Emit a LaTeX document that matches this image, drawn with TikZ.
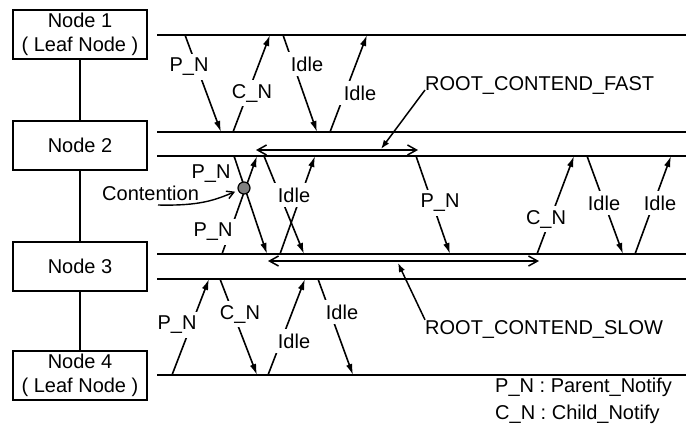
\documentclass[tikz,border=0pt]{standalone}
\usepackage{fontspec}
\setmainfont{Liberation Sans}
\usetikzlibrary{arrows.meta,positioning}

\begin{document}
\begin{tikzpicture}[
    x=1pt, y=-1pt,
    font=\fontsize{20}{24}\selectfont,
    nodebox/.style={rectangle, draw, line width=1.6pt, minimum width=134pt, minimum height=49pt, inner sep=0pt, align=center},
    link/.style={line width=1.5pt},
    tline/.style={line width=1.8pt},
    msg/.style={-{Latex[length=11pt,width=6.5pt]}, line width=1.6pt},
    lbl/.style={fill=white, inner sep=4.5pt},
    txt/.style={inner sep=0pt},
    span/.style={>={Straight Barb[length=9pt,width=10pt]}, <->, line width=1.5pt},
    pointer/.style={-{Latex[length=9pt,width=6.5pt]}, line width=1.5pt},
]
\useasboundingbox (0,0) rectangle (688,424);

% ---- tree nodes, linked top to bottom ----
\node[nodebox] (n1) at (80,34.5) {Node 1\\( Leaf Node )};
\node[nodebox] (n2) at (80,145.5) {Node 2};
\node[nodebox] (n3) at (80,266.5) {Node 3};
\node[nodebox] (n4) at (80,375.5) {Node 4\\( Leaf Node )};

\draw[link] (n1) -- (n2);
\draw[link] (n2) -- (n3);
\draw[link] (n3) -- (n4);

% ---- time lines ----
\foreach \n/\y in {1/35, 2/132, 3/156, 4/254, 5/279, 6/375} {
  \coordinate (t\n) at (157,\y);
  \draw[tline] (t\n) -- ++(529,0);
}

% ---- messages between the time lines ----
\foreach \xa/\ta/\xb/\tb in {185/t1/221/t2, 233/t2/270/t1, 283/t1/317/t2, 330/t2/367/t1,
    234/t3/267/t4, 222/t4/257/t3, 264/t3/304/t4, 280/t4/315/t3,
    416/t3/450/t4, 537/t4/574/t3, 587/t3/623/t4, 635/t4/671/t3,
    172/t6/209/t5, 220/t5/257/t6, 268/t6/305/t5, 318/t5/353/t6}
  \draw[msg] (\xa,0|-\ta) -- (\xb,0|-\tb);

\foreach \x/\y/\t [count=\i] in {189/67/P\_N, 252/93/C\_N, 307/64/Idle, 360/93/Idle,
    211/174/P\_N, 213/232/P\_N, 294/195/Idle,
    440/203/P\_N, 546/219/C\_N, 604/203/Idle, 660/203/Idle,
    177/325/P\_N, 240/314/C\_N, 294/341/Idle, 342/312/Idle}
  \node[lbl] (lab\i) at (\x,\y) {\t};

% ---- contention point ----
\node[circle, draw, fill=black!50, line width=1.2pt, inner sep=0pt, minimum size=12pt] (dot) at (244,188) {};
\node[txt, anchor=base west] (cont) at (102,200) {Contention};
\coordinate (conttail) at (158,205);
\draw[line width=1.4pt, -{Straight Barb[length=7pt,width=8pt]}, shorten >=3pt]
  (conttail) .. controls (200,206) and (215,200) .. (dot);

% ---- root contend spans ----
\coordinate (fastL) at (256,150);
\coordinate (fastR) at (418,150);
\draw[span] (fastL) -- (fastR);
\coordinate (slowL) at (268,261);
\coordinate (slowR) at (539,261);
\draw[span] (slowL) -- (slowR);

\node[txt, anchor=base west] (fast) at (425,90) {ROOT\_CONTEND\_FAST};
\coordinate (fastmark) at (381,149);
\draw[pointer] (fast.base west) -- (fastmark);

\node[txt, anchor=base west] (slow) at (425,334) {ROOT\_CONTEND\_SLOW};
\coordinate (slowmark) at (398,263);
\draw[pointer] (slow.north west) -- (slowmark);

% ---- legend ----
\node[txt, anchor=base west] (legpn) at (495,392) {P\_N : Parent\_Notify};
\node[txt, anchor=base west] (legcn) at (495,419) {C\_N : Child\_Notify};

\end{tikzpicture}
\end{document}
